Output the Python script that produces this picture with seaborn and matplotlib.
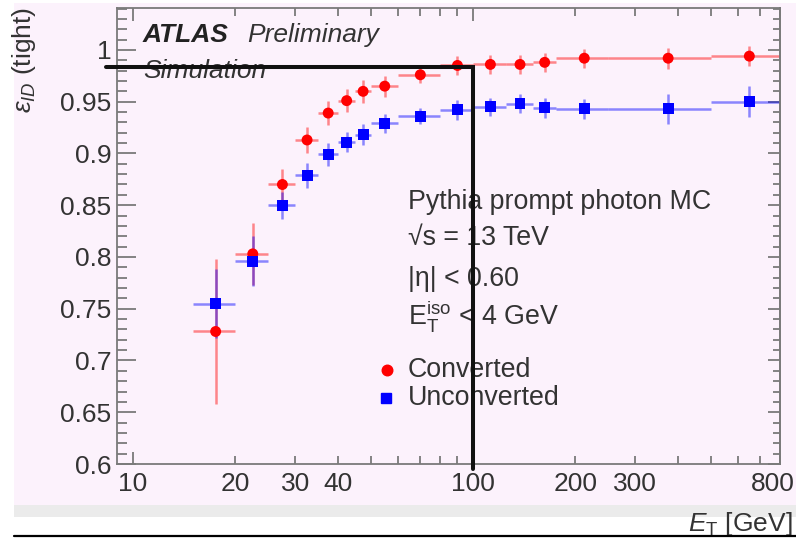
import numpy as np
import pandas as pd
import matplotlib
matplotlib.use("Agg")
import matplotlib.pyplot as plt
from matplotlib.ticker import FixedLocator, FuncFormatter, MultipleLocator
from matplotlib.patches import Rectangle
from matplotlib.lines import Line2D
import seaborn as sns

# ---- data: photon identification efficiency vs E_T ----
et_low = [15, 20, 25, 30, 35, 40, 45, 50, 60, 80, 100, 125, 150, 175, 250, 500]
et_high = [20, 25, 30, 35, 40, 45, 50, 60, 80, 100, 125, 150, 175, 250, 500, 800]

eff_converted = [0.728, 0.803, 0.870, 0.913, 0.939, 0.951, 0.960, 0.965,
                 0.976, 0.985, 0.986, 0.986, 0.988, 0.992, 0.992, 0.994]
err_converted = [0.070, 0.030, 0.015, 0.013, 0.012, 0.011, 0.011, 0.010,
                 0.008, 0.009, 0.009, 0.009, 0.009, 0.009, 0.010, 0.010]

eff_unconverted = [0.755, 0.796, 0.850, 0.879, 0.899, 0.911, 0.918, 0.929,
                   0.936, 0.942, 0.945, 0.948, 0.944, 0.943, 0.943, 0.950]
err_unconverted = [0.033, 0.024, 0.013, 0.012, 0.011, 0.010, 0.010, 0.009,
                   0.008, 0.010, 0.009, 0.009, 0.010, 0.010, 0.0145, 0.015]

series_names = ["Converted", "Unconverted"]
x_tick_labels = [10, 20, 30, 40, 100, 200, 300]
x_last_label = 800
x_minor_ticks = [20, 30, 40, 50, 60, 70, 80, 90, 200, 300, 400, 500, 600, 700, 800]
y_major_ticks = [0.6, 0.65, 0.7, 0.75, 0.8, 0.85, 0.9, 0.95, 1.0]

# working-point guide lines
guide_eff = 0.9835
guide_et = 100

info_lines = ["Pythia prompt photon MC", "√s = 13 TeV", "|η| < 0.60",
              r"E$_{\mathrm{T}}^{\mathrm{iso}}$ < 4 GeV"]

# ---- style ----
sns.set_style("ticks")
plt.rcParams["font.family"] = ["Liberation Sans", "DejaVu Sans"]
plt.rcParams["mathtext.fontset"] = "custom"
plt.rcParams["mathtext.rm"] = "Liberation Sans"
plt.rcParams["mathtext.it"] = "Liberation Sans:italic"
plt.rcParams["mathtext.bf"] = "Liberation Sans:bold"

PINK = "#fcf2fc"
TXT = "#333333"
TICK = "#7a7a7a"
RED = "#ff0000"
BLUE = "#0000ff"
FS = 19
FS_INFO = 19.3

W, H = 796, 539
fig = plt.figure(figsize=(W / 100, H / 100), dpi=100)
fig.patch.set_facecolor("white")


def fx(px):
    return px / W


def fy(py):
    return 1 - py / H


# page background, grey band and bottom rule
fig.add_artist(Rectangle((fx(14), fy(505)), fx(796) - fx(14), fy(3) - fy(505),
                         transform=fig.transFigure, facecolor=PINK,
                         edgecolor="none", zorder=-5))
fig.add_artist(Rectangle((fx(14), fy(517)), fx(796) - fx(14), fy(505) - fy(517),
                         transform=fig.transFigure, facecolor="#ebebeb",
                         edgecolor="none", zorder=-5))

ax = fig.add_axes([fx(117), fy(464), fx(780) - fx(117), fy(8) - fy(464)])
ax.set_facecolor(PINK)

# ---- data frame ----
lo = np.array(et_low, dtype=float)
hi = np.array(et_high, dtype=float)
centers = 0.5 * (lo + hi)

df = pd.DataFrame({
    "et": np.concatenate([centers, centers]),
    "lo": np.concatenate([lo, lo]),
    "hi": np.concatenate([hi, hi]),
    "eff": np.concatenate([eff_converted, eff_unconverted]),
    "err": np.concatenate([err_converted, err_unconverted]),
    "sample": [series_names[0]] * len(centers) + [series_names[1]] * len(centers),
})

palette = {"Converted": RED, "Unconverted": BLUE}
markers = {"Converted": "o", "Unconverted": "s"}

for name, sub in df.groupby("sample"):
    ax.errorbar(sub["et"], sub["eff"], yerr=sub["err"],
                xerr=[sub["et"] - sub["lo"], sub["hi"] - sub["et"]],
                fmt="none", ecolor=palette[name], elinewidth=1.8,
                alpha=0.45, capsize=0, zorder=2)

sns.scatterplot(data=df, x="et", y="eff", hue="sample", style="sample",
                palette=palette, markers=markers, s=62, linewidth=0,
                legend=False, ax=ax, zorder=4)

# ---- axes ----
ax.set_xscale("log")
ax.set_xlim(8.97, 800)
ax.set_ylim(0.6, 1.0405)
ax.set_xlabel("")
ax.set_ylabel("")

ax.xaxis.set_major_locator(FixedLocator([10, 100]))
ax.xaxis.set_minor_locator(FixedLocator(x_minor_ticks))
ax.xaxis.set_major_formatter(FuncFormatter(lambda v, p: f"{v:g}"))
ax.xaxis.set_minor_formatter(
    FuncFormatter(lambda v, p: f"{v:g}" if round(v) in x_tick_labels else ""))

ax.yaxis.set_major_locator(FixedLocator(y_major_ticks))
ax.yaxis.set_minor_locator(MultipleLocator(0.01))
ax.yaxis.set_major_formatter(FuncFormatter(lambda v, p: f"{v:g}"))

ax.tick_params(axis="x", which="both", direction="in", top=True, bottom=True,
               color=TICK, labelcolor=TXT, labelsize=FS, pad=6, width=1.3)
ax.tick_params(axis="x", which="major", length=9)
ax.tick_params(axis="x", which="minor", length=5.5)
ax.tick_params(axis="y", which="both", direction="in", left=True, right=False,
               color=TICK, labelcolor=TXT, labelsize=FS, pad=4, width=1.3)
ax.tick_params(axis="y", which="major", length=14)
ax.tick_params(axis="y", which="minor", length=7)

# last axis label, nudged so it stays inside the page
ax.annotate(f"{x_last_label:g}", xy=(x_last_label, 0),
            xycoords=("data", "axes fraction"), xytext=(-5, -6),
            textcoords="offset points", ha="center", va="top",
            fontsize=FS, color=TXT, annotation_clip=False)

sec = ax.secondary_yaxis("right")
sec.yaxis.set_major_locator(FixedLocator(y_major_ticks))
sec.yaxis.set_minor_locator(MultipleLocator(0.01))
sec.tick_params(axis="y", which="both", direction="in", color=TICK,
                labelright=False, width=1.3)
sec.tick_params(axis="y", which="major", length=9)
sec.tick_params(axis="y", which="minor", length=5)

for sp in list(ax.spines.values()) + list(sec.spines.values()):
    sp.set_color(TICK)
    sp.set_linewidth(1.3)

# ---- labels ----
fig.text(fx(143), fy(42), "ATLAS", fontsize=FS, fontweight="bold",
         fontstyle="italic", color="#222222", va="baseline")
fig.text(fx(247), fy(42), "Preliminary", fontsize=FS, fontstyle="italic",
         color=TXT, va="baseline")
fig.text(fx(143), fy(78), "Simulation", fontsize=FS, fontstyle="italic",
         color=TXT, va="baseline")

for txt, base in zip(info_lines, [209, 245, 286, 325]):
    fig.text(fx(408), fy(base), txt, fontsize=FS_INFO, color=TXT, va="baseline")

# legend entries
for name, (mx, my), base in zip(series_names, [(387, 370), (386, 398)], [377, 405]):
    fig.add_artist(Line2D([fx(mx)], [fy(my)], transform=fig.transFigure,
                          marker=markers[name], color=palette[name],
                          markersize=7.6, linestyle="none"))
    fig.text(fx(408), fy(base), name, fontsize=FS_INFO, color=TXT, va="baseline")

fig.text(fx(24), fy(113), r"$\varepsilon_{ID}$ (tight)", rotation=90,
         ha="center", va="bottom", fontsize=FS, color=TXT)
fig.text(fx(793), fy(531), r"$E_{\mathrm{T}}$ [GeV]", ha="right",
         va="baseline", fontsize=FS, color=TXT)

# guide lines at the working point
fig.add_artist(Line2D([8.3, guide_et, guide_et], [guide_eff, guide_eff, 0.5955],
                      transform=ax.transData, color="#111111", lw=2.9,
                      solid_joinstyle="miter", zorder=10))

fig.add_artist(Line2D([fx(14), 1.0], [fy(536), fy(536)],
                      transform=fig.transFigure, color="black", lw=1.6,
                      zorder=11))

fig.savefig("out.png", dpi=100, facecolor="white")
